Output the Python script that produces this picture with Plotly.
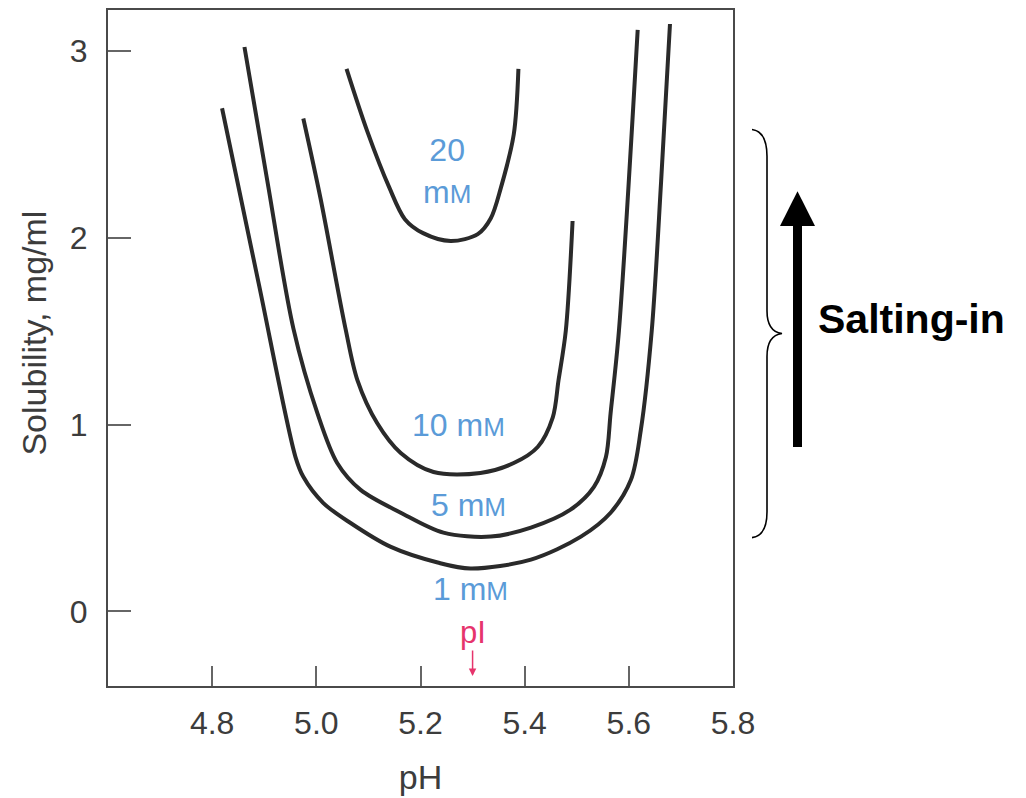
import plotly.graph_objects as go

# ---- data ----
ph_1mM = [4.819, 4.889, 4.960, 4.975, 5.013, 5.065, 5.142, 5.233, 5.296,
          5.412, 5.508, 5.565, 5.604, 5.623, 5.644, 5.662, 5.679]
sol_1mM = [2.694, 1.760, 0.826, 0.720, 0.581, 0.474, 0.346, 0.261, 0.229,
           0.277, 0.400, 0.528, 0.704, 0.970, 1.503, 2.303, 3.145]

ph_5mM = [4.862, 4.906, 4.956, 5.002, 5.040, 5.085, 5.162, 5.244, 5.335, 5.412, 5.488,
          5.533, 5.556, 5.565, 5.581, 5.617]
sol_5mM = [3.022, 2.303, 1.514, 1.061, 0.794, 0.650, 0.528, 0.421, 0.400, 0.448, 0.544,
           0.666, 0.826, 1.061, 1.503, 3.113]

ph_10mM = [4.975, 5.008, 5.056, 5.079, 5.117, 5.162, 5.225, 5.315, 5.379, 5.425, 5.454, 5.465,
           5.479, 5.492]
sol_10mM = [2.639, 2.212, 1.514, 1.237, 1.007, 0.848, 0.746, 0.741, 0.794, 0.880, 1.039, 1.237,
            1.503, 2.090]

ph_20mM = [5.058, 5.098, 5.140, 5.170, 5.205, 5.258, 5.310, 5.335, 5.354, 5.379, 5.388]
sol_20mM = [2.905, 2.569, 2.270, 2.100, 2.025, 1.983, 2.020, 2.105, 2.265, 2.553, 2.905]

x_ticks = [4.8, 5.0, 5.2, 5.4, 5.6, 5.8]
x_ticklabels = ["4.8", "5.0", "5.2", "5.4", "5.6", "5.8"]
y_ticks = [0, 1, 2, 3]
y_ticklabels = ["0", "1", "2", "3"]

pI_value = 5.30

curve_label_text = ["1 m<span style='font-size:26px'>M</span>",
                    "5 m<span style='font-size:26px'>M</span>",
                    "10 m<span style='font-size:26px'>M</span>",
                    "20<br>m<span style='font-size:26px'>M</span>"]
curve_label_x = [5.296, 5.292, 5.273, 5.25]
curve_label_y = [0.117, 0.570, 0.997, 2.36]

# ---- figure ----
FONT = "Liberation Sans, Arial, sans-serif"
LINE = "#2a2a2a"
BLUE = "#5b9bd8"
PINK = "#e6346c"
GREY = "#3c3c3c"

fig = go.Figure()
for xs, ys in [(ph_1mM, sol_1mM), (ph_5mM, sol_5mM), (ph_10mM, sol_10mM), (ph_20mM, sol_20mM)]:
    fig.add_trace(go.Scatter(x=xs, y=ys, mode="lines",
                             line=dict(color=LINE, width=4, shape="spline", smoothing=0.9),
                             showlegend=False, hoverinfo="skip"))

for t, x, y in zip(curve_label_text, curve_label_x, curve_label_y):
    fig.add_annotation(x=x, y=y, text=t, showarrow=False,
                       font=dict(family=FONT, size=32, color=BLUE), align="center")

# pI marker
fig.add_annotation(x=pI_value, y=-0.112, text="pI", showarrow=False,
                   font=dict(family=FONT, size=31, color=PINK))
fig.add_annotation(x=pI_value, y=-0.347, ax=0, ay=-27, text="", showarrow=True,
                   arrowhead=2, arrowsize=1, arrowwidth=1.5, arrowcolor=PINK, standoff=0)

W, H = 1026, 798
L, R, T, B = 108, 293, 8, 111
PW, PH = W - L - R, H - T - B


def px(x):
    return (x - L) / PW


def py(y):
    return (H - B - y) / PH


# y-axis title (placed as in the reference, slightly above the plot's centre)
fig.add_annotation(xref="paper", yref="paper", x=px(34), y=py(333), text="Solubility, mg/ml",
                   textangle=-90, showarrow=False, xanchor="center", yanchor="middle",
                   font=dict(family=FONT, size=34, color=GREY))

# curly brace
brace = (f"M {px(752)},{py(128)} "
         f"Q {px(767)},{py(130)} {px(767)},{py(155)} "
         f"L {px(767)},{py(310)} "
         f"Q {px(767)},{py(331)} {px(782)},{py(333)} "
         f"Q {px(767)},{py(335)} {px(767)},{py(356)} "
         f"L {px(767)},{py(512)} "
         f"Q {px(767)},{py(536)} {px(752)},{py(538)}")
fig.add_shape(type="path", xref="paper", yref="paper", path=brace,
              line=dict(color="black", width=1.6))

# big arrow (shaft + head)
fig.add_shape(type="rect", xref="paper", yref="paper",
              x0=px(793), x1=px(802), y0=py(447), y1=py(222),
              line=dict(width=0), fillcolor="black")
head = f"M {px(780)},{py(225)} L {px(815)},{py(225)} L {px(797.5)},{py(190)} Z"
fig.add_shape(type="path", xref="paper", yref="paper", path=head,
              line=dict(width=0), fillcolor="black")

fig.add_annotation(xref="paper", yref="paper", x=px(816), y=py(318),
                   text="<b>Salting-in</b>", showarrow=False, xanchor="left", yanchor="middle",
                   font=dict(family=FONT, size=41, color="black"))

axis_common = dict(showline=True, linecolor="#4a4a4a", linewidth=2, mirror=True,
                   ticks="inside", tickcolor="#666666", tickwidth=1.5,
                   showgrid=False, zeroline=False,
                   tickfont=dict(family=FONT, size=32, color=GREY))

fig.update_xaxes(range=[4.6, 5.8], tickvals=x_ticks, ticktext=x_ticklabels, ticklen=20,
                 title=dict(text="pH", font=dict(family=FONT, size=34, color=GREY), standoff=25),
                 ticklabelstandoff=8, **axis_common)
fig.update_yaxes(range=[-0.40, 3.22], tickvals=y_ticks, ticktext=y_ticklabels, ticklen=23,
                 ticklabelstandoff=12, **axis_common)

fig.update_layout(width=W, height=H, margin=dict(l=L, r=R, t=T, b=B),
                  plot_bgcolor="white", paper_bgcolor="white", showlegend=False)

fig.write_html("out.html")
